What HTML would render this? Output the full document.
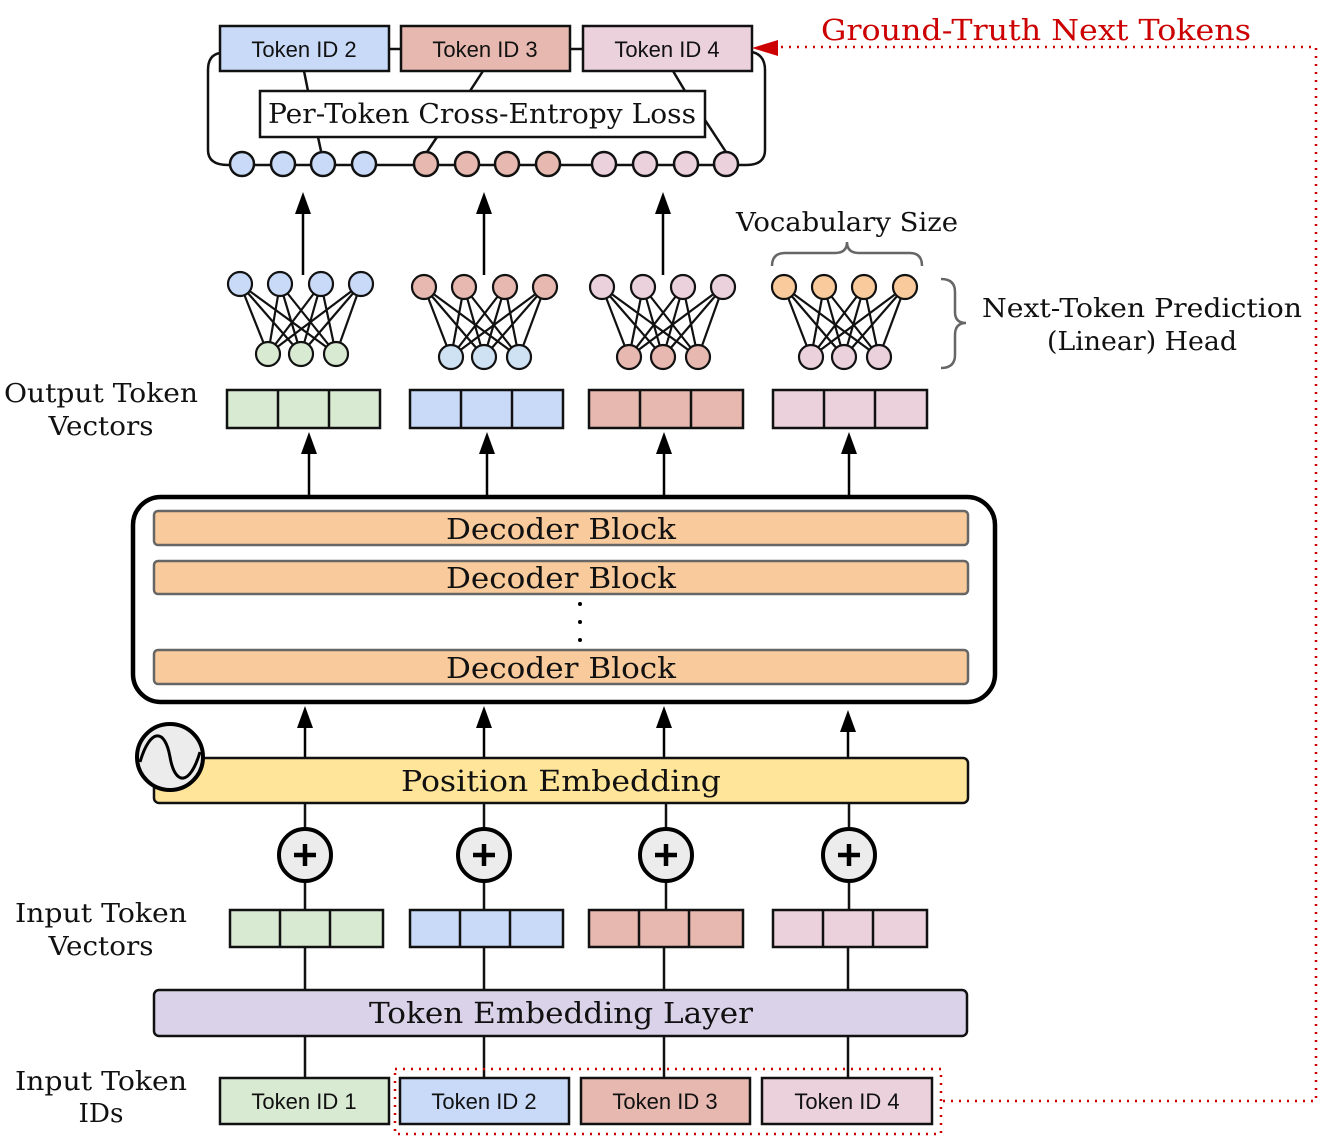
<!DOCTYPE html>
<html><head><meta charset="utf-8"><style>
html,body{margin:0;padding:0;background:#fff;}
svg{display:block;}
.s{font-family:"DejaVu Serif","Liberation Serif",serif;fill:#111;}
.a{font-family:"Liberation Sans",sans-serif;font-size:22px;fill:#111;}
</style></head><body>
<svg width="1342" height="1144" viewBox="0 0 1342 1144" xmlns="http://www.w3.org/2000/svg">
<g stroke="#111" stroke-width="2.5" fill="none">
<path d="M220,53 Q208,55 208,70 L208,150 Q208,165 228,165 L746,165 Q765,165 765,150 L765,70 Q765,55 752,52"/>
<line x1="389" y1="49" x2="401" y2="49"/><line x1="570" y1="49" x2="583" y2="49"/>
<line x1="304" y1="71" x2="308" y2="91"/><line x1="318" y1="137" x2="321" y2="151"/>
<line x1="483" y1="71" x2="470" y2="91"/><line x1="437" y1="137" x2="427" y2="152"/>
<line x1="673" y1="71" x2="685" y2="91"/><line x1="705" y1="120" x2="726" y2="152"/>
</g>
<g stroke="#111" stroke-width="2.5">
<rect x="220" y="26" width="169" height="45" fill="#c9daf8"/>
<rect x="401" y="26" width="169" height="45" fill="#e6b8af"/>
<rect x="583" y="26" width="169" height="45" fill="#ead1dc"/>
<rect x="260" y="91" width="445" height="46" fill="#fff"/>
</g>
<text class="a" x="304" y="57" text-anchor="middle">Token ID 2</text>
<text class="a" x="485" y="57" text-anchor="middle">Token ID 3</text>
<text class="a" x="667" y="57" text-anchor="middle">Token ID 4</text>
<text class="s" x="482" y="123" font-size="27" text-anchor="middle" textLength="428" lengthAdjust="spacingAndGlyphs">Per-Token Cross-Entropy Loss</text>
<g stroke="#111" stroke-width="2.5">
<circle cx="242" cy="164" r="12" fill="#c9daf8"/><circle cx="283" cy="164" r="12" fill="#c9daf8"/><circle cx="323" cy="164" r="12" fill="#c9daf8"/><circle cx="364" cy="164" r="12" fill="#c9daf8"/>
<circle cx="426" cy="164" r="12" fill="#e6b8af"/><circle cx="467" cy="164" r="12" fill="#e6b8af"/><circle cx="507" cy="164" r="12" fill="#e6b8af"/><circle cx="548" cy="164" r="12" fill="#e6b8af"/>
<circle cx="604" cy="164" r="12" fill="#ead1dc"/><circle cx="645" cy="164" r="12" fill="#ead1dc"/><circle cx="686" cy="164" r="12" fill="#ead1dc"/><circle cx="726" cy="164" r="12" fill="#ead1dc"/>
</g>
<!-- arrows up to loss -->
<g stroke="#000" stroke-width="2.5">
<line x1="303" y1="275" x2="303" y2="205"/><line x1="484" y1="275" x2="484" y2="205"/><line x1="663" y1="275" x2="663" y2="205"/>
</g>
<g fill="#000">
<path d="M303,192 L295,214 L311,214 Z"/><path d="M484,192 L476,214 L492,214 Z"/><path d="M663,192 L655,214 L671,214 Z"/>
</g>
<!-- NN heads -->
<g stroke="#111" stroke-width="2.2">
<path d="M240,284L268,354M240,284L301,354M240,284L336,354M280,284L268,354M280,284L301,354M280,284L336,354M321,284L268,354M321,284L301,354M321,284L336,354M361,284L268,354M361,284L301,354M361,284L336,354"/>
<path d="M424,287L451,357M424,287L484,357M424,287L519,357M464,287L451,357M464,287L484,357M464,287L519,357M505,287L451,357M505,287L484,357M505,287L519,357M545,287L451,357M545,287L484,357M545,287L519,357"/>
<path d="M602,287L629,357M602,287L663,357M602,287L698,357M643,287L629,357M643,287L663,357M643,287L698,357M683,287L629,357M683,287L663,357M683,287L698,357M723,287L629,357M723,287L663,357M723,287L698,357"/>
<path d="M784,287L811,357M784,287L844,357M784,287L879,357M824,287L811,357M824,287L844,357M824,287L879,357M864,287L811,357M864,287L844,357M864,287L879,357M905,287L811,357M905,287L844,357M905,287L879,357"/>
<g fill="#c9daf8"><circle cx="240" cy="284" r="12"/><circle cx="280" cy="284" r="12"/><circle cx="321" cy="284" r="12"/><circle cx="361" cy="284" r="12"/></g>
<g fill="#d9ead3"><circle cx="268" cy="354" r="12"/><circle cx="301" cy="354" r="12"/><circle cx="336" cy="354" r="12"/></g>
<g fill="#e6b8af"><circle cx="424" cy="287" r="12"/><circle cx="464" cy="287" r="12"/><circle cx="505" cy="287" r="12"/><circle cx="545" cy="287" r="12"/></g>
<g fill="#cfe2f3"><circle cx="451" cy="357" r="12"/><circle cx="484" cy="357" r="12"/><circle cx="519" cy="357" r="12"/></g>
<g fill="#ead1dc"><circle cx="602" cy="287" r="12"/><circle cx="643" cy="287" r="12"/><circle cx="683" cy="287" r="12"/><circle cx="723" cy="287" r="12"/></g>
<g fill="#e6b8af"><circle cx="629" cy="357" r="12"/><circle cx="663" cy="357" r="12"/><circle cx="698" cy="357" r="12"/></g>
<g fill="#f9cb9c"><circle cx="784" cy="287" r="12"/><circle cx="824" cy="287" r="12"/><circle cx="864" cy="287" r="12"/><circle cx="905" cy="287" r="12"/></g>
<g fill="#ead1dc"><circle cx="811" cy="357" r="12"/><circle cx="844" cy="357" r="12"/><circle cx="879" cy="357" r="12"/></g>
</g>
<!-- braces -->
<g stroke="#666" stroke-width="2.5" fill="none">
<path d="M772,266 Q772,253 785,253 L835,253 Q847,253 847,242 Q847,253 859,253 L910,253 Q922,253 922,266"/>
<path d="M941,279 Q955,279 955,292 L955,312 Q955,323 966,323 Q955,323 955,335 L955,355 Q955,368 941,368"/>
</g>
<text class="s" x="847" y="231" font-size="26" text-anchor="middle" textLength="222" lengthAdjust="spacingAndGlyphs">Vocabulary Size</text>
<text class="s" x="1142" y="317" font-size="26" text-anchor="middle" textLength="320" lengthAdjust="spacingAndGlyphs">Next-Token Prediction</text>
<text class="s" x="1142" y="350" font-size="26" text-anchor="middle" textLength="190" lengthAdjust="spacingAndGlyphs">(Linear) Head</text>
<text class="s" x="101" y="402" font-size="26" text-anchor="middle" textLength="194" lengthAdjust="spacingAndGlyphs">Output Token</text>
<text class="s" x="101" y="435" font-size="26" text-anchor="middle" textLength="105" lengthAdjust="spacingAndGlyphs">Vectors</text>
<!-- output vectors -->
<g stroke="#111" stroke-width="2.5">
<rect x="227" y="390" width="153" height="38" fill="#d9ead3"/><line x1="278" y1="390" x2="278" y2="428"/><line x1="329" y1="390" x2="329" y2="428"/>
<rect x="410" y="390" width="153" height="38" fill="#c9daf8"/><line x1="461" y1="390" x2="461" y2="428"/><line x1="512" y1="390" x2="512" y2="428"/>
<rect x="589" y="390" width="154" height="38" fill="#e6b8af"/><line x1="640" y1="390" x2="640" y2="428"/><line x1="691" y1="390" x2="691" y2="428"/>
<rect x="773" y="390" width="154" height="38" fill="#ead1dc"/><line x1="824" y1="390" x2="824" y2="428"/><line x1="875" y1="390" x2="875" y2="428"/>
</g>
<g stroke="#000" stroke-width="2.5">
<line x1="309" y1="496" x2="309" y2="445"/><line x1="487" y1="496" x2="487" y2="445"/><line x1="664" y1="496" x2="664" y2="445"/><line x1="849" y1="496" x2="849" y2="445"/>
</g>
<g fill="#000">
<path d="M309,432 L301,454 L317,454 Z"/><path d="M487,432 L479,454 L495,454 Z"/><path d="M664,432 L656,454 L672,454 Z"/><path d="M849,432 L841,454 L857,454 Z"/>
</g>
<!-- decoder -->
<rect x="133" y="497" width="862" height="205" rx="28" fill="#fff" stroke="#000" stroke-width="4.5"/>
<g fill="#f9cb9c" stroke="#666" stroke-width="2.5">
<rect x="154" y="511" width="814" height="34" rx="4"/>
<rect x="154" y="561" width="814" height="33" rx="4"/>
<rect x="154" y="650" width="814" height="34" rx="4"/>
</g>
<text class="s" x="561" y="539" font-size="29" text-anchor="middle" textLength="230" lengthAdjust="spacingAndGlyphs">Decoder Block</text>
<text class="s" x="561" y="588" font-size="29" text-anchor="middle" textLength="230" lengthAdjust="spacingAndGlyphs">Decoder Block</text>
<text class="s" x="561" y="678" font-size="29" text-anchor="middle" textLength="230" lengthAdjust="spacingAndGlyphs">Decoder Block</text>
<g fill="#000"><circle cx="580" cy="604" r="2"/><circle cx="580" cy="622" r="2"/><circle cx="580" cy="640" r="2"/></g>
<g stroke="#000" stroke-width="2.5">
<line x1="305" y1="758" x2="305" y2="720"/><line x1="484" y1="758" x2="484" y2="720"/><line x1="664" y1="758" x2="664" y2="720"/><line x1="848" y1="758" x2="848" y2="724"/>
</g>
<g fill="#000">
<path d="M305,706 L297,728 L313,728 Z"/><path d="M484,706 L476,728 L492,728 Z"/><path d="M664,706 L656,728 L672,728 Z"/><path d="M848,710 L840,732 L856,732 Z"/>
</g>
<!-- position embedding -->
<rect x="154" y="758" width="814" height="45" rx="5" fill="#ffe599" stroke="#111" stroke-width="2.5"/>
<text class="s" x="561" y="791" font-size="29" text-anchor="middle" textLength="320" lengthAdjust="spacingAndGlyphs">Position Embedding</text>
<circle cx="170" cy="757" r="33" fill="#ececec" stroke="#000" stroke-width="4"/>
<path d="M140,762 C150,728 165,728 170,757 C175,786 190,786 200,752" fill="none" stroke="#000" stroke-width="3"/>
<!-- plus -->
<g stroke="#111" stroke-width="2.5">
<line x1="305" y1="803" x2="305" y2="910"/><line x1="484" y1="803" x2="484" y2="910"/><line x1="666" y1="803" x2="666" y2="910"/><line x1="849" y1="803" x2="849" y2="910"/>
</g>
<g fill="#ececec" stroke="#000" stroke-width="4">
<circle cx="305" cy="855" r="26"/><circle cx="484" cy="855" r="26"/><circle cx="666" cy="855" r="26"/><circle cx="849" cy="855" r="26"/>
</g>
<g stroke="#000" stroke-width="4.5">
<path d="M294,855h22M305,844v22"/><path d="M473,855h22M484,844v22"/><path d="M655,855h22M666,844v22"/><path d="M838,855h22M849,844v22"/>
</g>
<!-- input vectors -->
<g stroke="#111" stroke-width="2.5">
<line x1="305" y1="947" x2="305" y2="1078"/><line x1="484" y1="947" x2="484" y2="1078"/><line x1="664" y1="947" x2="664" y2="1078"/><line x1="848" y1="947" x2="848" y2="1078"/>
<rect x="230" y="910" width="153" height="37" fill="#d9ead3"/><line x1="280" y1="910" x2="280" y2="947"/><line x1="330" y1="910" x2="330" y2="947"/>
<rect x="410" y="910" width="153" height="37" fill="#c9daf8"/><line x1="460" y1="910" x2="460" y2="947"/><line x1="510" y1="910" x2="510" y2="947"/>
<rect x="589" y="910" width="154" height="37" fill="#e6b8af"/><line x1="639" y1="910" x2="639" y2="947"/><line x1="689" y1="910" x2="689" y2="947"/>
<rect x="773" y="910" width="154" height="37" fill="#ead1dc"/><line x1="823" y1="910" x2="823" y2="947"/><line x1="873" y1="910" x2="873" y2="947"/>
<rect x="154" y="990" width="813" height="46" rx="5" fill="#d9d2e9"/>
</g>
<text class="s" x="561" y="1023" font-size="29" text-anchor="middle" textLength="384" lengthAdjust="spacingAndGlyphs">Token Embedding Layer</text>
<text class="s" x="101" y="922" font-size="26" text-anchor="middle" textLength="172" lengthAdjust="spacingAndGlyphs">Input Token</text>
<text class="s" x="101" y="955" font-size="26" text-anchor="middle" textLength="105" lengthAdjust="spacingAndGlyphs">Vectors</text>
<text class="s" x="101" y="1090" font-size="26" text-anchor="middle" textLength="172" lengthAdjust="spacingAndGlyphs">Input Token</text>
<text class="s" x="101" y="1122" font-size="26" text-anchor="middle" textLength="45" lengthAdjust="spacingAndGlyphs">IDs</text>
<!-- bottom tokens -->
<g stroke="#111" stroke-width="2.5">
<rect x="220" y="1078" width="169" height="46" fill="#d9ead3"/>
<rect x="400" y="1078" width="169" height="46" fill="#c9daf8"/>
<rect x="581" y="1078" width="169" height="46" fill="#e6b8af"/>
<rect x="762" y="1078" width="170" height="46" fill="#ead1dc"/>
</g>
<text class="a" x="304" y="1109" text-anchor="middle">Token ID 1</text>
<text class="a" x="484" y="1109" text-anchor="middle">Token ID 2</text>
<text class="a" x="665" y="1109" text-anchor="middle">Token ID 3</text>
<text class="a" x="847" y="1109" text-anchor="middle">Token ID 4</text>
<!-- red dotted -->
<g stroke="#cc0000" stroke-width="2.5" fill="none" stroke-dasharray="2,6">
<rect x="395" y="1069" width="546" height="65"/>
<path d="M943,1101 L1316,1101 L1316,47 L778,47"/>
</g>
<path d="M752,48 L778,40 L778,56 Z" fill="#cc0000"/>
<text x="1036" y="40" font-family="DejaVu Serif, serif" font-size="29" fill="#cc0000" text-anchor="middle" textLength="430" lengthAdjust="spacingAndGlyphs">Ground-Truth Next Tokens</text>
</svg>
</body></html>
